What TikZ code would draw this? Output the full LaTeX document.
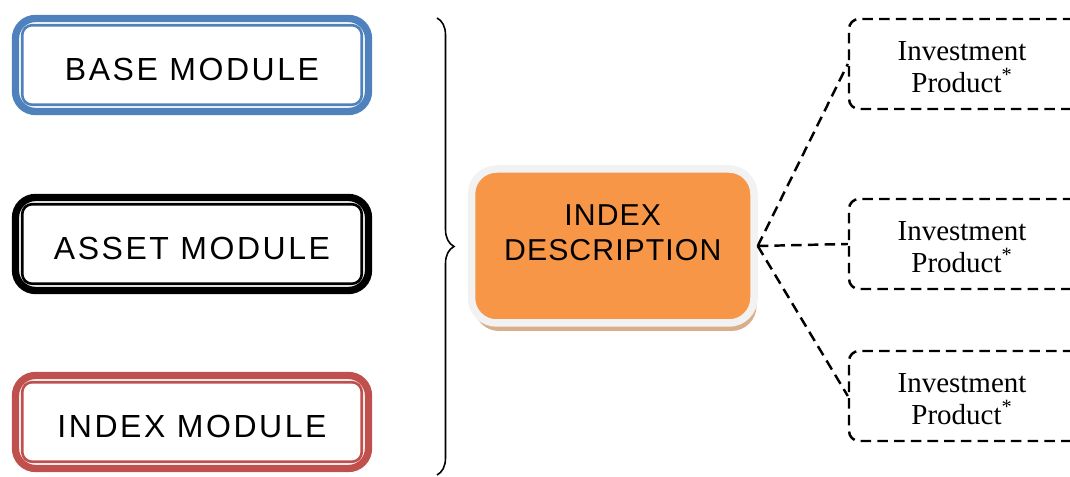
\documentclass[tikz,border=0pt]{standalone}
\usepackage{fontspec}
\setmainfont{Liberation Serif}
\setsansfont{Liberation Sans}
\usepackage{tikz}
\usetikzlibrary{positioning}
\usetikzlibrary{decorations.pathreplacing}
\usetikzlibrary{shadows}

\definecolor{baseblue}{HTML}{4F81BD}
\definecolor{indexred}{HTML}{C0504D}
\definecolor{descorange}{HTML}{F79646}
\definecolor{descrim}{HTML}{F2F2F2}
\definecolor{desctan}{HTML}{D9AF8A}

\tikzset{
  module/.style={draw, line width=0.146cm, rounded corners=0.4cm, fill=white,
    minimum width=7.06cm, minimum height=1.86cm, inner sep=0pt, outer sep=0pt, text height=0.64cm,
    font=\sffamily\fontsize{18.2}{21}\selectfont\addfontfeatures{LetterSpace=8}},
  innerline/.style={line width=1.5pt, rounded corners=0.2cm},
  product/.style={draw, dash pattern=on 6pt off 3.5pt, line width=1.4pt, rounded corners=0.2cm,
    minimum width=5.02cm, minimum height=1.8cm, inner sep=0pt},
  prodtext/.style={align=center, font=\rmfamily\fontsize{16.5}{18}\selectfont},
  link/.style={dash pattern=on 6pt off 3.5pt, line width=1.4pt}
}

\begin{document}
\begin{tikzpicture}

\useasboundingbox (0,0) rectangle (21.4,9.54);
\clip (0,0) rectangle (21.4,9.54);

% left modules
\node[module, draw=baseblue] (base) at (3.84,8.24) {BASE MODULE};
\draw[innerline, baseblue] ([shift={(0.134,0.134)}]base.south west) rectangle ([shift={(-0.134,-0.134)}]base.north east);

\node[module, draw=black] (asset) at (3.84,4.66) {ASSET MODULE};
\draw[innerline, black] ([shift={(0.134,0.134)}]asset.south west) rectangle ([shift={(-0.134,-0.134)}]asset.north east);

\node[module, draw=indexred] (index) at (3.84,1.1) {INDEX MODULE};
\draw[innerline, indexred] ([shift={(0.134,0.134)}]index.south west) rectangle ([shift={(-0.134,-0.134)}]index.north east);

% brace
\coordinate (bracetop) at (8.74,9.18);
\coordinate (bracebot) at (8.74,0.04);
\draw[line width=0.9pt, decorate, decoration={brace, amplitude=0.34cm}] (bracetop) -- (bracebot);

% index description
\node[draw=descrim, line width=0.15cm, fill=descorange, rounded corners=0.5cm,
      minimum width=5.65cm, minimum height=3.08cm, inner sep=0pt,
      drop shadow={shadow xshift=0.05cm, shadow yshift=-0.16cm, fill=desctan, opacity=1},
      label={[yshift=0.27cm, align=center, font=\sffamily\fontsize{17.2}{19.9}\selectfont\addfontfeatures{LetterSpace=3.5}]center:INDEX\\DESCRIPTION}]
      (desc) at (12.255,4.62) {};

% investment products
\node[product, label={[prodtext, xshift=-0.25cm, yshift=-0.06cm]center:Investment\\Product\textsuperscript{*}}] (prod1) at (19.49,8.26) {};
\node[product, label={[prodtext, xshift=-0.25cm, yshift=-0.06cm]center:Investment\\Product\textsuperscript{*}}] (prod2) at (19.49,4.66) {};
\node[product, label={[prodtext, xshift=-0.25cm, yshift=-0.06cm]center:Investment\\Product\textsuperscript{*}}] (prod3) at (19.49,1.62) {};

\draw[link] (desc.east) -- (prod1.west);
\draw[link] (desc.east) -- (prod2.west);
\draw[link] (desc.east) -- (prod3.west);

\end{tikzpicture}
\end{document}
